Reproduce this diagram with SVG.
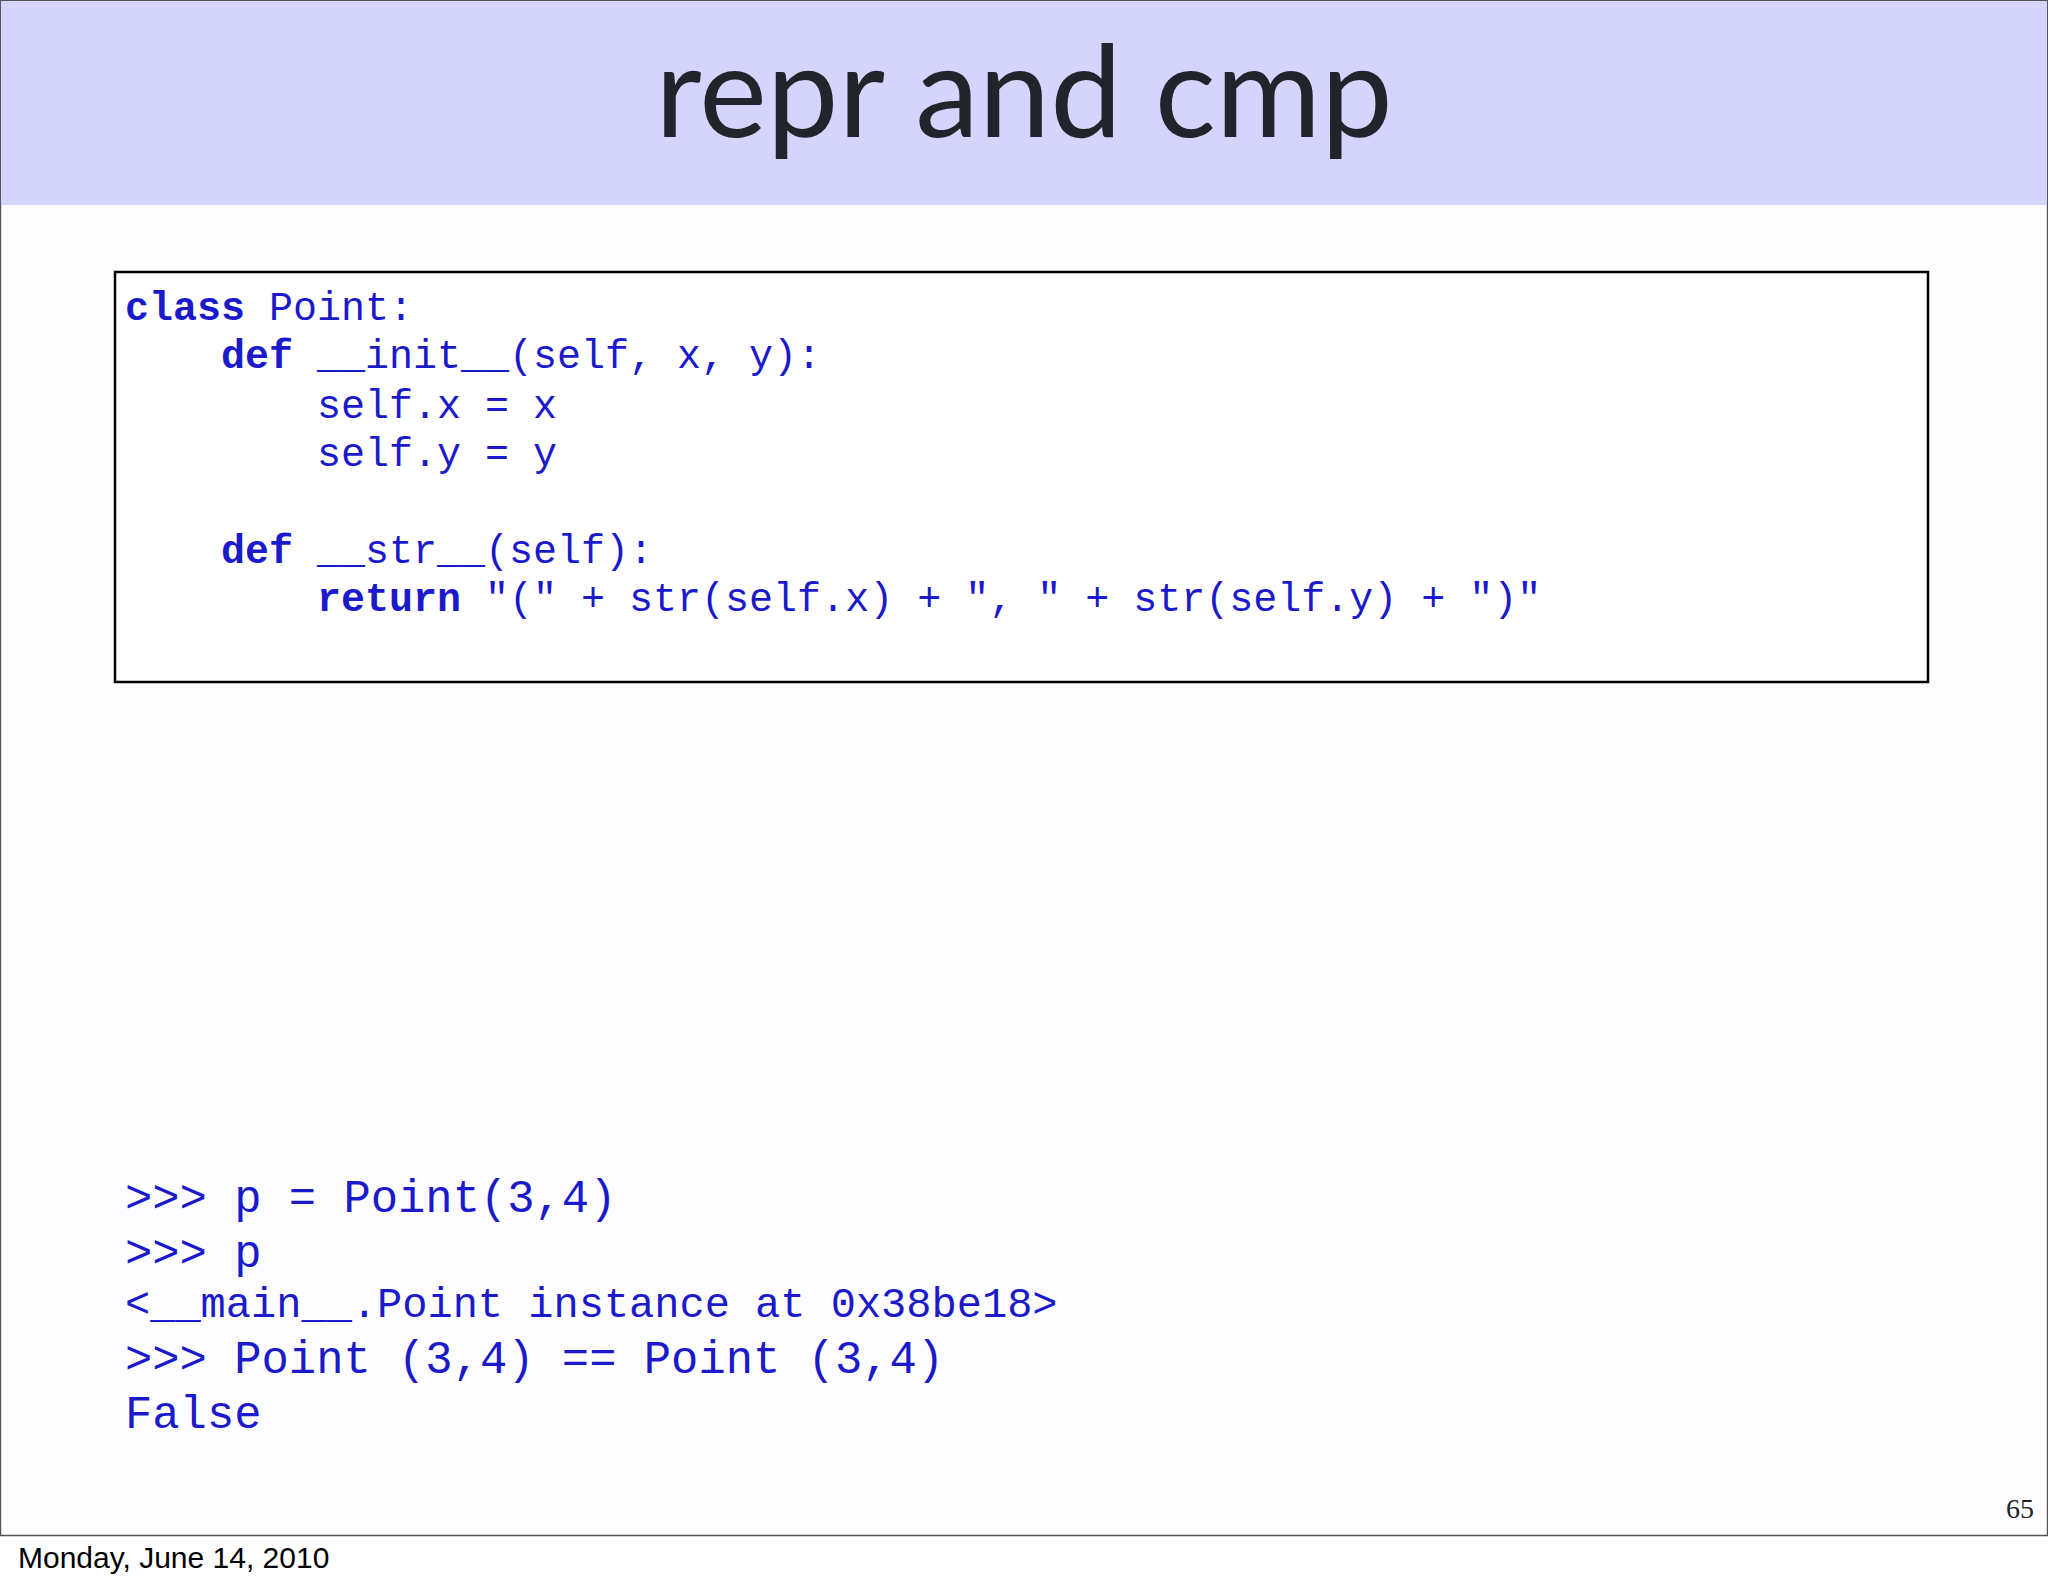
<svg xmlns="http://www.w3.org/2000/svg" width="2048" height="1587" viewBox="0 0 2048 1587">
<style>
.c{font-family:"Liberation Mono",monospace;fill:#1a1acc;white-space:pre}
.k{font-weight:bold}
</style>
<rect width="2048" height="1587" fill="#fff"/>
<rect x="0.5" y="0.5" width="2047" height="1535" fill="#fdfdff" stroke="#555" stroke-width="1.5"/>
<rect x="1" y="1" width="2046" height="204" fill="#d4d4fc"/>
<text x="1024" y="137" text-anchor="middle" font-family="Lato,sans-serif" font-size="128" fill="#23232b">repr and cmp</text>
<g id="codebox">
<rect x="115" y="272" width="1813" height="410" fill="#fff" stroke="#000" stroke-width="2.5"/>
<text class="c" font-size="40" x="125" y="320"><tspan class="k">class</tspan> Point:</text>
<text class="c" font-size="40" x="125" y="368">    <tspan class="k">def</tspan> __init__(self, x, y):</text>
<text class="c" font-size="40" x="125" y="418">        self.x = x</text>
<text class="c" font-size="40" x="125" y="466">        self.y = y</text>
<text class="c" font-size="40" x="125" y="563">    <tspan class="k">def</tspan> __str__(self):</text>
<text class="c" font-size="40" x="125" y="611">        <tspan class="k">return</tspan> "(" + str(self.x) + ", " + str(self.y) + ")"</text>
</g>
<g id="session">
<text class="c" font-size="45.5" x="125" y="1212">&gt;&gt;&gt; p = Point(3,4)</text>
<text class="c" font-size="45.5" x="125" y="1267">&gt;&gt;&gt; p</text>
<text class="c" font-size="42" x="125" y="1317">&lt;__main__.Point instance at 0x38be18&gt;</text>
<text class="c" font-size="45.5" x="125" y="1373">&gt;&gt;&gt; Point (3,4) == Point (3,4)</text>
<text class="c" font-size="45.5" x="125" y="1428">False</text>
</g>
<text x="2034" y="1518" text-anchor="end" font-family="Liberation Serif,serif" font-size="28" fill="#222">65</text>
<text x="18" y="1568" font-family="Liberation Sans,sans-serif" font-size="30" fill="#000">Monday, June 14, 2010</text>
</svg>
